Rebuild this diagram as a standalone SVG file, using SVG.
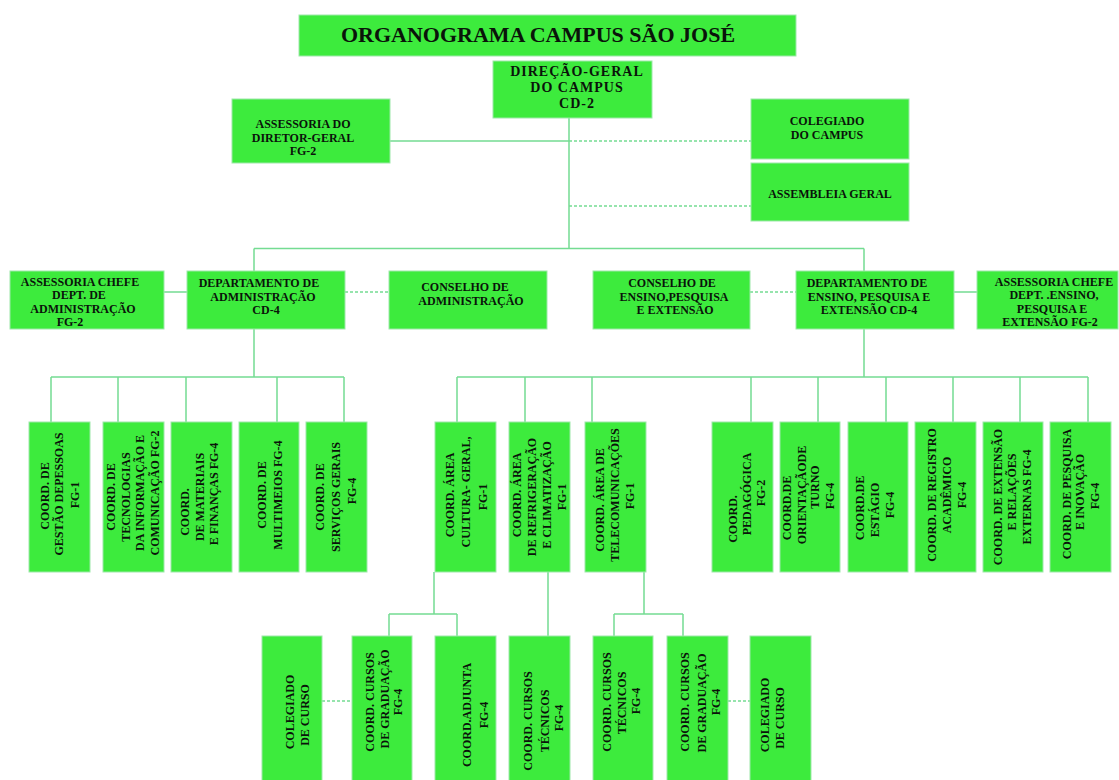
<svg xmlns="http://www.w3.org/2000/svg" width="1119" height="780" viewBox="0 0 1119 780">
<style>
.b{fill:#3deb3d;stroke:#9ee8aa;stroke-width:1}
.t{font-family:"Liberation Serif","Times New Roman",serif;font-weight:bold;font-size:12px;fill:#0a140a;text-anchor:middle}
.c{stroke:#74dc92;stroke-width:1.5;fill:none}
.d{stroke-dasharray:3 2}
</style>
<rect width="1119" height="780" fill="#ffffff"/>
<g id="connectors">
<path class="c" d="M569,118V248.5M390,141H569M254,248.5H864M254,248.5V271M864,248.5V271M164,292H187M954,292H977"/>
<path class="c" d="M254,329V377M51,377H344M51,377V422M118,377V422M186,377V422M277,377V422M344,377V422"/>
<path class="c" d="M864,329V377M457,377H1088M457,377V422M525,377V422M592,377V422M751,377V422M818,377V422M886,377V422M953,377V422M1020,377V422M1088,377V422"/>
<path class="c" d="M434,572V614M389,614H457M389,614V636M457,614V636M548,572V636M644,572V614M614,614H683M614,614V636M683,614V636"/>
<path class="c d" d="M569,141H751M569,206H751M345,292H389M750,292H796M322,701H352M728,701H750"/>
</g>
<g id="title">
<rect class="b" x="299" y="15" width="497" height="41"/>
<text class="t" x="538" y="42" style="font-size:22px">ORGANOGRAMA CAMPUS SÃO JOSÉ</text>
</g>
<g id="direcao-geral">
<rect class="b" x="493" y="61" width="159" height="57"/>
<text class="t" style="font-size:14px;letter-spacing:1px"><tspan x="577" y="76">DIREÇÃO-GERAL</tspan><tspan x="577" y="92">DO CAMPUS</tspan><tspan x="577" y="108">CD-2</tspan></text>
</g>
<g id="assessoria-diretor">
<rect class="b" x="232" y="99" width="158" height="64"/>
<text class="t"><tspan x="303" y="128">ASSESSORIA DO</tspan><tspan x="303" y="142">DIRETOR-GERAL</tspan><tspan x="303" y="155">FG-2</tspan></text>
</g>
<g id="colegiado-campus">
<rect class="b" x="751" y="99" width="158" height="60"/>
<text class="t"><tspan x="827" y="125">COLEGIADO</tspan><tspan x="827" y="139">DO CAMPUS</tspan></text>
</g>
<g id="assembleia-geral">
<rect class="b" x="751" y="163" width="158" height="58"/>
<text class="t" x="830" y="198">ASSEMBLEIA GERAL</text>
</g>
<g id="assessoria-chefe-adm">
<rect class="b" x="10" y="271" width="154" height="58"/>
<text class="t"><tspan x="80" y="286">ASSESSORIA CHEFE</tspan><tspan x="79" y="299">DEPT. DE</tspan><tspan x="83" y="313">ADMINISTRAÇÃO</tspan><tspan x="70" y="326">FG-2</tspan></text>
</g>
<g id="dept-administracao">
<rect class="b" x="187" y="271" width="158" height="58"/>
<text class="t"><tspan x="259" y="287">DEPARTAMENTO DE</tspan><tspan x="263" y="301">ADMINISTRAÇÃO</tspan><tspan x="266" y="314">CD-4</tspan></text>
</g>
<g id="conselho-administracao">
<rect class="b" x="389" y="271" width="158" height="58"/>
<text class="t"><tspan x="465" y="291">CONSELHO DE</tspan><tspan x="471" y="305">ADMINISTRAÇÃO</tspan></text>
</g>
<g id="conselho-ensino">
<rect class="b" x="593" y="271" width="157" height="58"/>
<text class="t"><tspan x="672" y="287">CONSELHO DE</tspan><tspan x="674" y="301">ENSINO,PESQUISA</tspan><tspan x="675" y="314">E EXTENSÃO</tspan></text>
</g>
<g id="dept-ensino">
<rect class="b" x="796" y="271" width="158" height="58"/>
<text class="t"><tspan x="867" y="287">DEPARTAMENTO DE</tspan><tspan x="869" y="301">ENSINO, PESQUISA E</tspan><tspan x="869" y="314">EXTENSÃO CD-4</tspan></text>
</g>
<g id="assessoria-chefe-ensino">
<rect class="b" x="977" y="271" width="141" height="58"/>
<text class="t"><tspan x="1054" y="286">ASSESSORIA CHEFE</tspan><tspan x="1054" y="299">DEPT. .ENSINO,</tspan><tspan x="1052" y="313">PESQUISA E</tspan><tspan x="1050" y="326">EXTENSÃO FG-2</tspan></text>
</g>
<g id="coord-gestao-pessoas">
<rect class="b" x="29" y="422" width="61" height="150"/>
<text class="t" transform="rotate(-90)"><tspan x="-496" y="49">COORD. DE</tspan><tspan x="-494" y="63">GESTÃO DEPESSOAS</tspan><tspan x="-495" y="79">FG-1</tspan></text>
</g>
<g id="coord-tecnologias">
<rect class="b" x="103" y="422" width="61" height="150"/>
<text class="t" transform="rotate(-90)"><tspan x="-497" y="114.5">COORD. DE</tspan><tspan x="-497" y="129.5">TECNOLOGIAS</tspan><tspan x="-493" y="144">DA INFORMAÇÃO E</tspan><tspan x="-493" y="158.5">COMUNICAÇÃO FG-2</tspan></text>
</g>
<g id="coord-materiais">
<rect class="b" x="171" y="422" width="61" height="150"/>
<text class="t" transform="rotate(-90)"><tspan x="-512" y="189">COORD.</tspan><tspan x="-497" y="204">DE MATERIAIS</tspan><tspan x="-494" y="218">E FINANÇAS FG-4</tspan></text>
</g>
<g id="coord-multimeios">
<rect class="b" x="239" y="422" width="60" height="150"/>
<text class="t" transform="rotate(-90)"><tspan x="-495" y="266">COORD. DE</tspan><tspan x="-495" y="281.5">MULTIMEIOS FG-4</tspan></text>
</g>
<g id="coord-servicos-gerais">
<rect class="b" x="306" y="422" width="61" height="150"/>
<text class="t" transform="rotate(-90)"><tspan x="-497" y="324">COORD. DE</tspan><tspan x="-497" y="340">SERVIÇOS GERAIS</tspan><tspan x="-491" y="356">FG-4</tspan></text>
</g>
<g id="coord-cultura-geral">
<rect class="b" x="435" y="422" width="61" height="150"/>
<text class="t" transform="rotate(-90)"><tspan x="-495" y="454">COORD. ÁREA</tspan><tspan x="-492" y="469.5">CULTURA- GERAL,</tspan><tspan x="-497" y="486.5">FG-1</tspan></text>
</g>
<g id="coord-refrigeracao">
<rect class="b" x="509" y="422" width="61" height="150"/>
<text class="t" transform="rotate(-90)"><tspan x="-495" y="521">COORD. ÁREA</tspan><tspan x="-497" y="536">DE REFRIGERAÇÃO</tspan><tspan x="-495" y="551">E CLIMATIZAÇÃO</tspan><tspan x="-497" y="566">FG-1</tspan></text>
</g>
<g id="coord-telecom">
<rect class="b" x="585" y="422" width="61" height="150"/>
<text class="t" transform="rotate(-90)"><tspan x="-500" y="604">COORD. ÁREA DE</tspan><tspan x="-495" y="619">TELECOMUNICAÇÕES</tspan><tspan x="-496" y="634">FG-1</tspan></text>
</g>
<g id="coord-pedagogica">
<rect class="b" x="712" y="422" width="61" height="150"/>
<text class="t" transform="rotate(-90)"><tspan x="-519" y="737">COORD.</tspan><tspan x="-494" y="751">PEDAGÓGICA</tspan><tspan x="-493" y="765">FG-2</tspan></text>
</g>
<g id="coord-orientacao">
<rect class="b" x="780" y="422" width="60" height="150"/>
<text class="t" transform="rotate(-90)"><tspan x="-508" y="791">COORD.DE</tspan><tspan x="-495" y="806">ORIENTAÇÃODE</tspan><tspan x="-487" y="819">TURNO</tspan><tspan x="-496" y="834">FG-4</tspan></text>
</g>
<g id="coord-estagio">
<rect class="b" x="848" y="422" width="60" height="150"/>
<text class="t" transform="rotate(-90)"><tspan x="-508" y="864">COORD.DE</tspan><tspan x="-510" y="879">ESTÁGIO</tspan><tspan x="-505" y="894">FG-4</tspan></text>
</g>
<g id="coord-registro">
<rect class="b" x="915" y="422" width="61" height="150"/>
<text class="t" transform="rotate(-90)"><tspan x="-495" y="936">COORD. DE REGISTRO</tspan><tspan x="-495" y="951">ACADÊMICO</tspan><tspan x="-495" y="966">FG-4</tspan></text>
</g>
<g id="coord-extensao">
<rect class="b" x="983" y="422" width="60" height="150"/>
<text class="t" transform="rotate(-90)"><tspan x="-497" y="1002">COORD. DE EXTENSÃO</tspan><tspan x="-492" y="1016">E RELAÇÕES</tspan><tspan x="-497" y="1031">EXTERNAS FG-4</tspan></text>
</g>
<g id="coord-pesquisa">
<rect class="b" x="1050" y="422" width="61" height="150"/>
<text class="t" transform="rotate(-90)"><tspan x="-494" y="1071">COORD. DE PESQUISA</tspan><tspan x="-492" y="1084">E INOVAÇÃO</tspan><tspan x="-496" y="1099">FG-4</tspan></text>
</g>
<g id="colegiado-curso-1">
<rect class="b" x="262" y="636" width="60" height="146"/>
<text class="t" transform="rotate(-90)"><tspan x="-712" y="294">COLEGIADO</tspan><tspan x="-715" y="309">DE CURSO</tspan></text>
</g>
<g id="coord-cursos-graduacao-1">
<rect class="b" x="352" y="636" width="60" height="146"/>
<text class="t" transform="rotate(-90)"><tspan x="-702" y="374">COORD. CURSOS</tspan><tspan x="-699" y="389">DE GRADUAÇÃO</tspan><tspan x="-702" y="402">FG-4</tspan></text>
</g>
<g id="coord-adjunta">
<rect class="b" x="435" y="636" width="61" height="146"/>
<text class="t" transform="rotate(-90)"><tspan x="-715" y="471">COORD.ADJUNTA</tspan><tspan x="-715" y="488">FG-4</tspan></text>
</g>
<g id="coord-cursos-tecnicos-1">
<rect class="b" x="509" y="636" width="61" height="146"/>
<text class="t" transform="rotate(-90)"><tspan x="-721" y="532">COORD. CURSOS</tspan><tspan x="-721" y="549">TÉCNICOS</tspan><tspan x="-718" y="563">FG-4</tspan></text>
</g>
<g id="coord-cursos-tecnicos-2">
<rect class="b" x="593" y="636" width="60" height="146"/>
<text class="t" transform="rotate(-90)"><tspan x="-702" y="611">COORD. CURSOS</tspan><tspan x="-703" y="626">TÉCNICOS</tspan><tspan x="-701" y="640">FG-4</tspan></text>
</g>
<g id="coord-cursos-graduacao-2">
<rect class="b" x="667" y="636" width="61" height="146"/>
<text class="t" transform="rotate(-90)"><tspan x="-702" y="689">COORD. CURSOS</tspan><tspan x="-703" y="706">DE GRADUAÇÃO</tspan><tspan x="-702" y="720">FG-4</tspan></text>
</g>
<g id="colegiado-curso-2">
<rect class="b" x="750" y="636" width="61" height="146"/>
<text class="t" transform="rotate(-90)"><tspan x="-715" y="769">COLEGIADO</tspan><tspan x="-718" y="784">DE CURSO</tspan></text>
</g>
</svg>
